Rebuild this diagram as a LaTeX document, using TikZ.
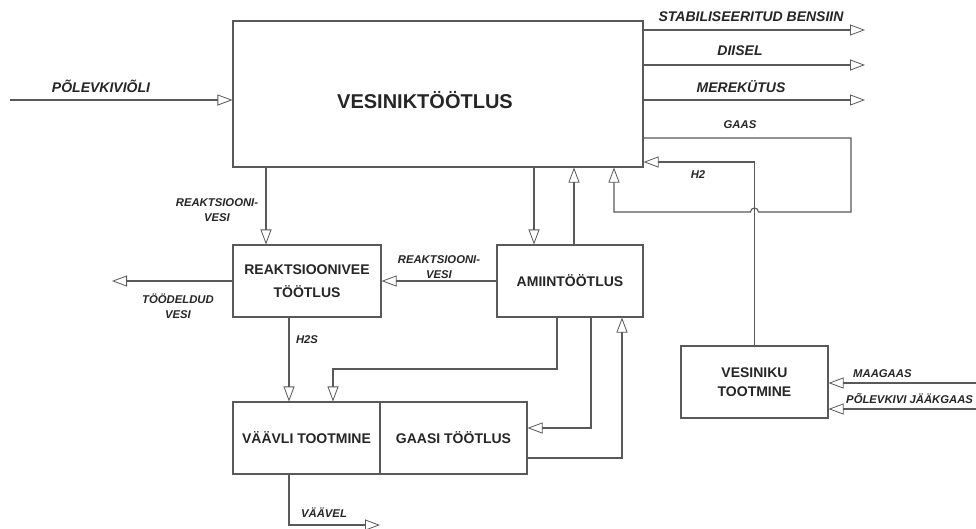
\documentclass[tikz,border=0pt]{standalone}
\usepackage{fontspec}
\setmainfont{Liberation Sans}
\usetikzlibrary{arrows.meta}
\begin{document}
\begin{tikzpicture}[x=1pt,y=-1pt,
  box/.style={draw=black!65, line width=1.1pt, minimum width=#1, minimum height=72pt, inner sep=0pt,
    font=\fontsize{14}{23}\selectfont\bfseries, align=center, text=black!85},
  flow/.style={draw=black!65, line width=1.1pt, -{Triangle[open,length=15pt,width=11pt,line width=0.8pt]}},
  lab/.style={font=\fontsize{11.3}{15}\selectfont\bfseries\itshape, align=center, inner sep=0pt, text=black!85},
  biglab/.style={font=\fontsize{14}{17}\selectfont\bfseries\itshape, inner sep=0pt, text=black!85}]
\fill[white] (0,0) rectangle (976,528);
\useasboundingbox (0,0) rectangle (976,528);

% boxes
\node[box=410pt, minimum height=146pt] (main) at (438,94) {};
\node[font=\fontsize{20}{24}\selectfont\bfseries, text=black!85] (mainlab) at (425,100) {VESINIKTÖÖTLUS};
\node[box=148pt] (rvt) at (307,281) {REAKTSIOONIVEE\\TÖÖTLUS};
\node[box=146pt] (amiin) at (570,281) {AMIINTÖÖTLUS};
\node[box=147pt] (vaavli) at (306.5,438) {VÄÄVLI TOOTMINE};
\node[box=147pt] (gaasi) at (453.5,438) {GAASI TÖÖTLUS};
\node[box=147pt, font=\fontsize{14}{19}\selectfont\bfseries] (vesiniku) at (754.5,382) {VESINIKU\\TOOTMINE};

% helper coordinates
\coordinate (pin) at (10,100);
\coordinate (o1) at (865,30);
\coordinate (o2) at (865,65);
\coordinate (o3) at (865,100);
\coordinate (g1) at (851,138);
\coordinate (g2) at (851,212);
\coordinate (hopR) at (758.5,212);
\coordinate (g3) at (614,212);
\coordinate (h2a) at (754.5,162);
\coordinate (xa) at (266,0);
\coordinate (xb) at (534,0);
\coordinate (xc) at (574,0);
\coordinate (xd) at (289,0);
\coordinate (xe) at (557,0);
\coordinate (a1) at (557,369);
\coordinate (a2) at (333,369);
\coordinate (xf) at (591,0);
\coordinate (b1) at (591,428);
\coordinate (c0) at (0,458);
\coordinate (c1) at (622,458);
\coordinate (tv) at (112,281);
\coordinate (v1) at (289,525);
\coordinate (v2) at (380,525);
\coordinate (m1) at (976,383);
\coordinate (m2) at (976,409);

% connectors
\draw[flow] (pin) -- (main.west |- pin);
\draw[flow] (main.east |- o1) -- (o1);
\draw[flow] (main.east |- o2) -- (o2);
\draw[flow] (main.east |- o3) -- (o3);
\draw[flow] (main.east |- g1) -- (g1) -- (g2) -- (hopR) arc[start angle=0,end angle=180,radius=4pt] -- (g3) -- (main.south -| g3);
\draw[flow] (vesiniku.north) -- (h2a) -- (main.east |- h2a);
\draw[flow] (main.south -| xb) -- (amiin.north -| xb);
\draw[flow] (amiin.north -| xc) -- (main.south -| xc);
\draw[flow] (main.south -| xa) -- (rvt.north -| xa);
\draw[flow] (amiin.west) -- (rvt.east);
\draw[flow] (rvt.west) -- (tv);
\draw[flow] (rvt.south -| xd) -- (vaavli.north -| xd);
\draw[flow] (amiin.south -| xe) -- (a1) -- (a2) -- (vaavli.north -| a2);
\draw[flow] (amiin.south -| xf) -- (b1) -- (gaasi.east |- b1);
\draw[flow] (gaasi.east |- c0) -- (c1) -- (amiin.south -| c1);
\draw[flow] (vaavli.south -| xd) -- (v1) -- (v2);
\draw[flow] (m1) -- (vesiniku.east |- m1);
\draw[flow] (m2) -- (vesiniku.east |- m2);

% labels
\node[biglab] (lpol) at (101,86) {PÕLEVKIVIÕLI};
\node[biglab] (lben) at (751,17) {STABILISEERITUD BENSIIN};
\node[biglab] (ldii) at (740,51) {DIISEL};
\node[biglab] (lmer) at (741,87) {MEREKÜTUS};
\node[lab] (lgaas) at (740,125) {GAAS};
\node[lab] (lh2) at (698,175) {H2};
\node[lab] (lrv1) at (217,210) {REAKTSIOONI-\\VESI};
\node[lab] (lrv2) at (439,267) {REAKTSIOONI-\\VESI};
\node[lab] (ltv) at (178,306) {TÖÖDELDUD\\VESI};
\node[lab] (lh2s) at (307,340) {H2S};
\node[lab] (lvv) at (324,513) {VÄÄVEL};
\node[lab, anchor=west] (lmaa) at (853,374) {MAAGAAS};
\node[lab, anchor=west] (ljaak) at (846,399) {PÕLEVKIVI JÄÄKGAAS};
\end{tikzpicture}
\end{document}
